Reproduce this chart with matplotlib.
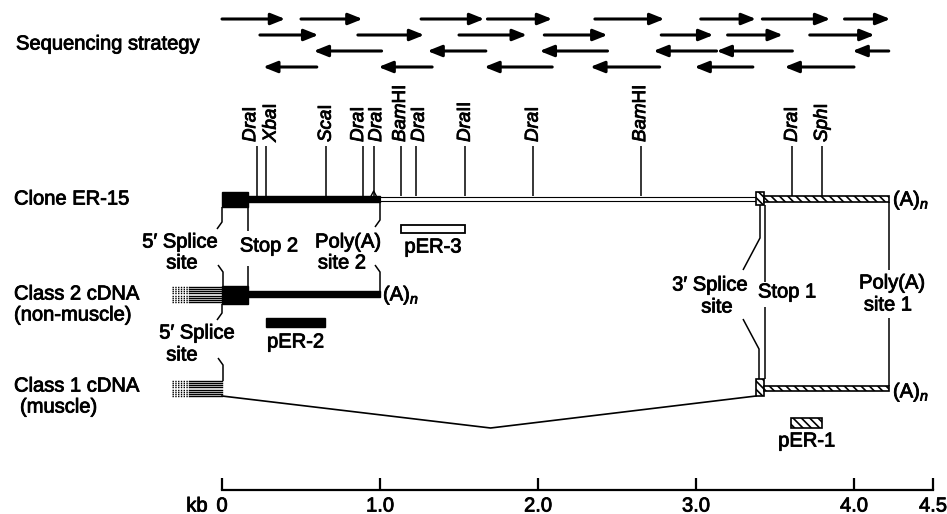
import numpy as np
import matplotlib
matplotlib.use('Agg')
import matplotlib.pyplot as plt
import matplotlib.patheffects as pe
from matplotlib.patches import Rectangle

plt.rcParams['font.family'] = ['Liberation Sans', 'DejaVu Sans']
plt.rcParams['mathtext.fontset'] = 'custom'
plt.rcParams['mathtext.rm'] = 'Liberation Sans'
plt.rcParams['mathtext.it'] = 'Liberation Sans:italic'
plt.rcParams['hatch.linewidth'] = 1.2

# sequencing strategy arrows, kb (tail, head)
fwd_row1 = [(0.0, 0.40), (0.50, 0.89), (1.26, 1.66), (1.68, 2.09), (2.36, 2.80),
            (3.03, 3.38), (3.42, 3.85), (3.94, 4.23)]
fwd_row2 = [(0.24, 0.61), (0.86, 1.28), (1.50, 1.93), (2.04, 2.44), (2.78, 3.11),
            (3.20, 3.55), (3.72, 4.13)]
rev_row3 = [(1.01, 0.58), (1.67, 1.30), (2.44, 2.01), (3.13, 2.73), (3.61, 3.13),
            (4.22, 3.99)]
rev_row4 = [(0.60, 0.26), (1.33, 0.99), (2.09, 1.66), (2.77, 2.33), (3.36, 2.99),
            (4.00, 3.56)]

# restriction sites
site_kb = [0.22, 0.28, 0.66, 0.89, 0.96, 1.13, 1.23, 1.54, 1.97, 2.65, 3.61, 3.80]
site_it = ['Dra', 'Xba', 'Sca', 'Dra', 'Dra', 'Bam', 'Dra', 'Dra', 'Dra', 'Bam', 'Dra', 'Sph']
site_rm = ['I', 'I', 'I', 'I', 'I', 'HI', 'I', 'II', 'I', 'HI', 'I', 'I']
# small sideways nudge of the labels (pixels), as in the scan
site_nudge = [-6, 5, 0, -4, 3, 0, 3, 0, 0, 0, 0, 0]

# gene features (kb)
exon5_end = 0.165
polyA2 = 1.0
splice3 = 3.38
stop1 = 3.43
polyA1 = 4.22
intron_mid = 1.70

# probes (kb start, kb end)
pER3 = (1.13, 1.54)
pER2 = (0.28, 0.65)
pER1 = (3.60, 3.80)

scale_ticks = [0, 1.0, 2.0, 3.0, 4.0, 4.5]
scale_labels = ['0', '1.0', '2.0', '3.0', '4.0', '4.5']

PX_KB = 158.0
X0 = 222.0

fig = plt.figure(figsize=(9.47, 5.14), dpi=100)
ax = fig.add_axes([0, 0, 1, 1])
ax.set_xlim(-X0 / PX_KB, (947 - X0) / PX_KB)
ax.set_ylim(514, 0)
ax.axis('off')

FS = 14.5
k = 'black'


def arrow(tail, head, y):
    ax.annotate('', xy=(head, y), xytext=(tail, y),
                arrowprops=dict(arrowstyle='-|>,head_length=0.85,head_width=0.34',
                                lw=2.2, color=k, mutation_scale=10,
                                shrinkA=0, shrinkB=0))


def px(p):
    return (p - X0) / PX_KB


def leader(pts):
    xs = [px(p[0]) for p in pts]
    ys = [p[1] for p in pts]
    ax.plot(xs, ys, color=k, lw=1.1, solid_capstyle='butt')


def hatched(x, y, w, h):
    ax.add_patch(Rectangle((x, y), w, h, fc='white', ec=k, lw=1.2, hatch='\\\\\\\\'))


def stack(y0, y1):
    for yy in np.linspace(y0, y1, 8):
        ax.plot([px(189), 0], [yy, yy], color=k, lw=1.0)
        ax.plot([px(172), px(189)], [yy, yy], color=k, lw=1.0, ls=(0, (1, 1)))


# sequencing strategy
ax.text(px(16), 44, 'Sequencing strategy', fontsize=FS, va='center', ha='left')
for row, y in [(fwd_row1, 19), (fwd_row2, 35), (rev_row3, 51), (rev_row4, 67)]:
    for t, h in row:
        arrow(t, h, y)

# restriction sites
ax.vlines(site_kb, 146, 196, color=k, lw=1.1)
for x, a, b, d in zip(site_kb, site_it, site_rm, site_nudge):
    ax.text(x + d / PX_KB, 142, r'$\mathit{' + a + '}$' + b, rotation=90,
            ha='center', va='bottom', fontsize=13.5)
ax.plot([0.94, 0.96, 0.98], [197, 191, 197], color=k, lw=1.0)

# clone ER-15
ax.text(px(14), 199, 'Clone ER-15', fontsize=FS, va='center', ha='left')
ax.add_patch(Rectangle((0, 192), exon5_end, 15, fc=k, ec=k))
ax.add_patch(Rectangle((exon5_end, 196), polyA2 - exon5_end, 6, fc=k, ec=k))
ax.add_patch(Rectangle((polyA2, 197), splice3 - polyA2, 4, fc='white', ec=k, lw=0.8))
hatched(splice3, 192, stop1 - splice3, 13)
hatched(stop1, 196, polyA1 - stop1, 6)
ax.text(px(893), 200, r'(A)$_{\mathit{n}}$', fontsize=FS, va='center', ha='left')

# class 2 cDNA
ax.text(px(14), 294, 'Class 2 cDNA', fontsize=FS, va='center', ha='left')
ax.text(px(14), 315, '(non-muscle)', fontsize=FS, va='center', ha='left')
stack(287, 302)
ax.add_patch(Rectangle((0, 286), exon5_end, 18, fc=k, ec=k))
ax.add_patch(Rectangle((exon5_end, 291), polyA2 - exon5_end, 6, fc=k, ec=k))
ax.text(px(383), 295, r'(A)$_{\mathit{n}}$', fontsize=FS, va='center', ha='left')

# class 1 cDNA
ax.text(px(14), 386, 'Class 1 cDNA', fontsize=FS, va='center', ha='left')
ax.text(px(20), 407, '(muscle)', fontsize=FS, va='center', ha='left')
stack(381, 396)
ax.plot([0, intron_mid, splice3], [396, 428, 396], color=k, lw=1.2)
hatched(splice3, 379, stop1 - splice3, 17)
hatched(stop1, 386, polyA1 - stop1, 5)
ax.text(px(893), 392, r'(A)$_{\mathit{n}}$', fontsize=FS, va='center', ha='left')

# probes
ax.add_patch(Rectangle((pER3[0], 225), pER3[1] - pER3[0], 8, fc='white', ec=k, lw=1.3))
ax.text(np.mean(pER3), 247, 'pER-3', fontsize=FS, va='center', ha='center')
ax.add_patch(Rectangle((pER2[0], 318), pER2[1] - pER2[0], 9, fc=k, ec=k))
ax.text(np.mean(pER2), 342, 'pER-2', fontsize=FS, va='center', ha='center')
hatched(pER1[0], 418, pER1[1] - pER1[0], 10)
ax.text(np.mean(pER1), 441, 'pER-1', fontsize=FS, va='center', ha='center')

# leaders and their labels
leader([(222, 207), (222, 222), (217, 229)])
ax.text(px(180), 242, '5\u2032 Splice', fontsize=FS, va='center', ha='center')
ax.text(px(182), 263, 'site', fontsize=FS, va='center', ha='center')
leader([(218, 265), (223, 272), (223, 286)])
leader([(248, 207), (248, 231)])
ax.text(px(269), 246, 'Stop 2', fontsize=FS, va='center', ha='center')
leader([(248, 266), (248, 286)])
leader([(380, 202), (380, 220), (375, 227)])
ax.text(px(348), 242, 'Poly(A)', fontsize=FS, va='center', ha='center')
ax.text(px(342), 263, 'site 2', fontsize=FS, va='center', ha='center')
leader([(375, 265), (380, 272), (380, 294)])

leader([(222, 304), (222, 313), (217, 320)])
ax.text(px(197), 333, '5\u2032 Splice', fontsize=FS, va='center', ha='center')
ax.text(px(182), 355, 'site', fontsize=FS, va='center', ha='center')
leader([(218, 358), (223, 365), (223, 381)])

leader([(760, 205), (760, 238), (743, 270)])
ax.text(px(710), 285, '3\u2032 Splice', fontsize=FS, va='center', ha='center')
ax.text(px(717), 307, 'site', fontsize=FS, va='center', ha='center')
leader([(743, 319), (759, 349), (759, 379)])
leader([(765, 205), (765, 282)])
ax.text(px(758), 292, 'Stop 1', fontsize=FS, va='center', ha='left')
leader([(765, 307), (765, 379)])
leader([(889, 202), (889, 270)])
ax.text(px(892), 283, 'Poly(A)', fontsize=FS, va='center', ha='center')
ax.text(px(888), 305, 'site 1', fontsize=FS, va='center', ha='center')
leader([(889, 318), (889, 386)])

# kb scale
ax.plot([0, 4.5], [490, 490], color=k, lw=1.6)
ax.vlines(scale_ticks, 478, 490, color=k, lw=1.6)
for t, lab in zip(scale_ticks, scale_labels):
    ax.text(t, 506, lab, fontsize=FS, va='center', ha='center')
ax.text(px(197), 506, 'kb', fontsize=FS, va='center', ha='center')

# the scanned lettering is a little heavier than a plain regular face
for t in ax.texts:
    t.set_path_effects([pe.withStroke(linewidth=0.6, foreground=k)])

fig.savefig('out.png', dpi=100)
